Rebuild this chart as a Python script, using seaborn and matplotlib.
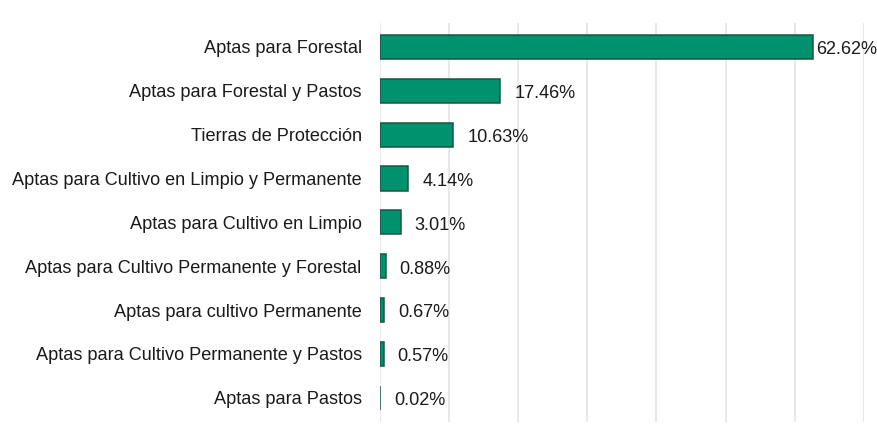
import matplotlib
matplotlib.use('Agg')
import matplotlib.pyplot as plt
import seaborn as sns
import pandas as pd

# Land use capacity categories and their share (%)
categorias = [
    'Aptas para Forestal',
    'Aptas para Forestal y Pastos',
    'Tierras de Protección',
    'Aptas para Cultivo en Limpio y Permanente',
    'Aptas para Cultivo en Limpio',
    'Aptas para Cultivo Permanente y Forestal',
    'Aptas para cultivo Permanente',
    'Aptas para Cultivo Permanente y Pastos',
    'Aptas para Pastos',
]
porcentajes = [62.62, 17.46, 10.63, 4.14, 3.01, 0.88, 0.67, 0.57, 0.02]
etiquetas = ['62.62%', '17.46%', '10.63%', '4.14%', '3.01%', '0.88%', '0.67%', '0.57%', '0.02%']

df = pd.DataFrame({'Categoria': categorias, 'Porcentaje': porcentajes})

sns.set_style('white')
plt.rcParams['font.family'] = ['Liberation Sans', 'DejaVu Sans']

fig = plt.figure(figsize=(8.77, 4.47), dpi=100)
ax = fig.add_axes([0.433, 0.056, 0.552, 0.893])

sns.barplot(data=df, x='Porcentaje', y='Categoria', color='#00916E',
            saturation=1, width=0.55, edgecolor='#1A5640', linewidth=1.1, ax=ax)

ax.set_xlim(0, 70)
ax.set_ylim(8.55, -0.55)
ax.set_xticks(range(0, 71, 10))
ax.xaxis.grid(True, color='#dfe6e6', linewidth=1.2)
ax.set_axisbelow(True)
ax.tick_params(axis='x', labelbottom=False, length=0)
ax.tick_params(axis='y', length=0, pad=13, labelsize=13.1, labelcolor='#1a1a1a')
ax.set_xlabel('')
ax.set_ylabel('')
for s in ax.spines.values():
    s.set_visible(False)

# value labels at the end of each bar
for i, (v, t) in enumerate(zip(porcentajes, etiquetas)):
    pad = 2.5 if v == max(porcentajes) else 10
    ax.annotate(t, (v, i), xytext=(pad, -2), textcoords='offset points',
                va='center', ha='left', fontsize=13.1, color='#1a1a1a',
                annotation_clip=False)

fig.savefig('out.png', dpi=100)
